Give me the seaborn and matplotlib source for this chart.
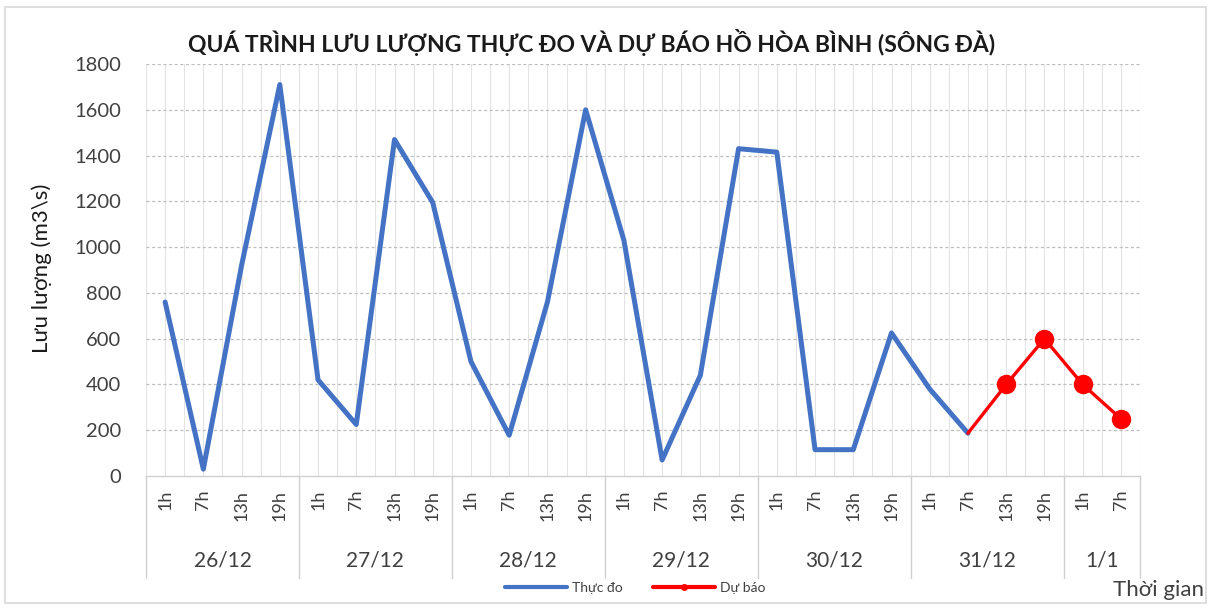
import numpy as np
import pandas as pd
import seaborn as sns
import matplotlib.pyplot as plt
import matplotlib.transforms as mtransforms
from matplotlib.lines import Line2D
from matplotlib.patches import Rectangle

# ---------------- data ----------------
hour_labels = ["1h", "7h", "13h", "19h",
               "1h", "7h", "13h", "19h",
               "1h", "7h", "13h", "19h",
               "1h", "7h", "13h", "19h",
               "1h", "7h", "13h", "19h",
               "1h", "7h", "13h", "19h",
               "1h", "7h"]
date_labels = ["26/12", "27/12", "28/12", "29/12", "30/12", "31/12", "1/1"]
date_sizes = [4, 4, 4, 4, 4, 4, 2]

observed = [760, 30, 920, 1710,
            420, 225, 1470, 1195,
            500, 178, 760, 1600,
            1030, 70, 440, 1430,
            1415, 115, 115, 625,
            380, 187]
forecast = [187, 400, 600, 400, 250]
forecast_start = 21

title = "QUÁ TRÌNH LƯU LƯỢNG THỰC ĐO VÀ DỰ BÁO HỒ HÒA BÌNH (SÔNG ĐÀ)"
ylabel = "Lưu lượng (m3\\s)"
xlabel = "Thời gian"
series_names = ["Thực đo", "Dự báo"]
y_ticks = [0, 200, 400, 600, 800, 1000, 1200, 1400, 1600, 1800]

# ---------------- style ----------------
sns.set_theme(style="white")
plt.rcParams['font.family'] = ['Lato', 'Noto Sans', 'DejaVu Sans']

n = len(hour_labels)
obs_df = pd.DataFrame({"x": np.arange(len(observed)), "y": observed})
fc_df = pd.DataFrame({"x": np.arange(forecast_start, forecast_start + len(forecast)), "y": forecast})

W, H = 1212, 608
fig = plt.figure(figsize=(W / 100, H / 100), dpi=100)
L, R, B, T = 146, 1140, 476, 64
ax = fig.add_axes([L / W, 1 - B / H, (R - L) / W, (B - T) / H])

blue = "#4472C4"
red = "#FF0000"

# grid lines
for gx in np.arange(-0.5, n, 0.5):
    ax.axvline(gx, color="#e3e3e3", lw=0.8, zorder=0)
for gy in y_ticks[1:]:
    ax.axhline(gy, color="#bfbfbf", lw=0.9, ls=(0, (2.5, 2)), zorder=0)

sns.lineplot(data=obs_df, x="x", y="y", ax=ax, color=blue, lw=3.6, zorder=3,
             solid_joinstyle="round", solid_capstyle="round", legend=False)
sns.lineplot(data=fc_df, x="x", y="y", ax=ax, color=red, lw=2.4, zorder=4,
             marker="o", markersize=14, markeredgewidth=0,
             solid_joinstyle="round",
             markevery=list(range(1, len(forecast))), legend=False)

ax.set_xlim(-0.5, n - 0.5)
ax.set_ylim(0, 1800)
ax.set_yticks(y_ticks)
ax.set_yticklabels([str(v) for v in y_ticks], fontsize=14.5, color="#404040")
ax.set_xticks(np.arange(n))
ax.set_xticklabels(hour_labels, rotation=90, fontsize=13, color="#404040")
ax.tick_params(axis="x", length=0, pad=10)
ax.tick_params(axis="y", length=0, pad=18)
ax.set_xlabel("")
ax.set_ylabel("")

for s in ["top", "right", "left"]:
    ax.spines[s].set_visible(False)
ax.spines["bottom"].set_color("#d0d0d0")
ax.spines["bottom"].set_linewidth(1.0)

# grouped date labels and separators
trans = mtransforms.blended_transform_factory(ax.transData, ax.transAxes)
bounds = np.concatenate([[0], np.cumsum(date_sizes)]) - 0.5
for b in bounds:
    ax.plot([b, b], [0, -0.248], transform=trans, color="#d0d0d0", lw=1.0, clip_on=False)
for i, d in enumerate(date_labels):
    cx = (bounds[i] + bounds[i + 1]) / 2
    ax.text(cx, -0.204, d, transform=trans, ha="center", va="center",
            fontsize=15, color="#404040")

# title & axis labels
fig.text(592 / W, 1 - 42 / H, title, ha="center", va="center",
         fontsize=16.5, fontweight="bold", color="#1a1a1a")
fig.text(42 / W, 1 - 268 / H, ylabel, rotation=90, ha="center", va="center",
         fontsize=16, color="#1a1a1a")
fig.text(1204 / W, 1 - 590 / H, xlabel, ha="right", va="center",
         fontsize=16, color="#404040")

# legend
handles = [Line2D([0], [0], color=blue, lw=3.0),
           Line2D([0], [0], color=red, lw=3.0, marker="o", markersize=4)]
fig.legend(handles, series_names, loc="center", bbox_to_anchor=(635 / W, 1 - 588 / H),
           ncol=2, frameon=False, fontsize=10, handlelength=4.5, handletextpad=0.3,
           columnspacing=2.2, labelcolor="#404040")

# chart border
fig.patches.append(Rectangle((5 / W, 5 / H), 1 - 11 / W, 1 - 12 / H,
                             transform=fig.transFigure, fill=False,
                             edgecolor="#d9d9d9", lw=1.2))

fig.savefig("out.png", dpi=100, facecolor="white")
